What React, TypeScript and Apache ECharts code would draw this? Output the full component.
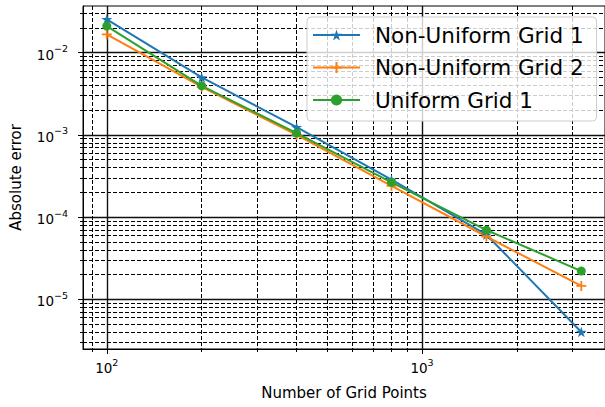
import { useEffect, useRef } from "react";
import * as echarts from "echarts";

const gridPoints = [100, 200, 400, 800, 1600, 3200];
const nonUniform1 = [0.0255, 5.0e-3, 1.24e-3, 2.85e-4, 6.1e-5, 4.0e-6];
const nonUniform2 = [0.0167, 3.85e-3, 1.0e-3, 2.4e-4, 5.8e-5, 1.45e-5];
const uniform1 = [0.0211, 3.95e-3, 1.05e-3, 2.65e-4, 6.95e-5, 2.2e-5];

const xMajorTicks = [100, 1000];
const xMinorTicks = [90, 200, 300, 400, 500, 600, 700, 800, 900, 2000, 3000];
const yMajorTicks = [1e-5, 1e-4, 1e-3, 1e-2];
const yMinorTicks = [
  3e-6, 4e-6, 5e-6, 6e-6, 7e-6, 8e-6, 9e-6,
  2e-5, 3e-5, 4e-5, 5e-5, 6e-5, 7e-5, 8e-5, 9e-5,
  2e-4, 3e-4, 4e-4, 5e-4, 6e-4, 7e-4, 8e-4, 9e-4,
  2e-3, 3e-3, 4e-3, 5e-3, 6e-3, 7e-3, 8e-3, 9e-3,
  2e-2, 3e-2,
];

const X_MIN = 84.05;
const X_MAX = 3805;
const Y_MIN = 2.48e-6;
const Y_MAX = 0.037;

const FONT = "DejaVu Sans";
const STAR =
  "path://M100,0L122.45,69.1L195.1,69.1L136.3,111.8L158.8,180.9L100,138.2L41.2,180.9L63.7,111.8L4.9,69.1L77.55,69.1Z";
const PLUS = "path://M4.1,0H5.9V4.1H10V5.9H5.9V10H4.1V5.9H0V4.1H4.1Z";

const powLabel = (v: number) => {
  const e = Math.round(Math.log10(v));
  const s = e < 0 ? "\u2212" + -e : String(e);
  return `{b|10}{s|${s}}`;
};

const rich = {
  b: { fontSize: 13.5, fontFamily: FONT, color: "#000", verticalAlign: "bottom", lineHeight: 18 },
  s: { fontSize: 9.5, fontFamily: FONT, color: "#000", verticalAlign: "top", lineHeight: 13 },
};

export default function App() {
  const ref = useRef<HTMLDivElement>(null);
  useEffect(() => {
    if (!ref.current) return;
    const chart = echarts.init(ref.current, undefined, { renderer: "svg" });
    const mk = (name: string, color: string, data: number[], symbol: string, size: any) => ({
      name,
      type: "line",
      xAxisIndex: 0,
      yAxisIndex: 0,
      data: gridPoints.map((x, i) => [x, data[i]]),
      symbol,
      symbolSize: size,
      showSymbol: true,
      lineStyle: { color, width: 2 },
      itemStyle: { color },
      emphasis: { disabled: true },
      z: 5,
    });
    chart.setOption({
      animation: false,
      backgroundColor: "#fff",
      grid: {
        left: 83,
        top: 6,
        right: -4.6,
        bottom: 58,
        show: true,
        borderColor: "#000",
        borderWidth: 1,
        backgroundColor: "transparent",
      },
      legend: {
        orient: "vertical",
        left: 307,
        top: 17,
        padding: [7, 13, 10, 5],
        itemGap: 10.5,
        itemWidth: 47,
        itemHeight: 14,
        backgroundColor: "rgba(255,255,255,0.8)",
        borderColor: "#cccccc",
        borderWidth: 1,
        borderRadius: 4,
        textStyle: { fontSize: 21.5, fontFamily: FONT, color: "#000", lineHeight: 22, padding: [0, 0, 0, 10] },
        data: ["Non-Uniform Grid 1", "Non-Uniform Grid 2", "Uniform Grid 1"],
      },
      xAxis: [
        {
          type: "log",
          min: X_MIN,
          max: X_MAX,
          position: "bottom",
          name: "Number of Grid Points",
          nameLocation: "middle",
          nameGap: 36,
          nameTextStyle: { fontSize: 15, fontFamily: FONT, color: "#000" },
          axisLine: { show: true, onZero: false, lineStyle: { color: "#000", width: 1 } },
          axisTick: { show: true, customValues: xMajorTicks, length: 5, lineStyle: { color: "#000", width: 1 } },
          axisLabel: { customValues: xMajorTicks, formatter: powLabel, rich, margin: 8 },
          splitLine: { show: true, lineStyle: { color: "#111", width: 1.4, type: "solid" } },
          z: 2,
        },
        {
          type: "log",
          min: X_MIN,
          max: X_MAX,
          position: "bottom",
          axisLine: { show: false },
          axisTick: { show: true, customValues: xMinorTicks, length: 3, lineStyle: { color: "#000", width: 1 } },
          axisLabel: { show: false },
          splitLine: { show: true, lineStyle: { color: "#000", width: 1, type: [4, 2] } },
          z: 1,
        },
      ],
      yAxis: [
        {
          type: "log",
          min: Y_MIN,
          max: Y_MAX,
          position: "left",
          name: "Absolute error",
          nameLocation: "middle",
          nameGap: 60,
          nameRotate: 90,
          nameTextStyle: { fontSize: 15, fontFamily: FONT, color: "#000" },
          axisLine: { show: true, onZero: false, lineStyle: { color: "#000", width: 1 } },
          axisTick: { show: true, customValues: yMajorTicks, length: 5, lineStyle: { color: "#000", width: 1 } },
          axisLabel: { customValues: yMajorTicks, formatter: powLabel, rich, margin: 15 },
          splitLine: { show: true, lineStyle: { color: "#111", width: 1.4, type: "solid" } },
          z: 2,
        },
        {
          type: "log",
          min: Y_MIN,
          max: Y_MAX,
          position: "left",
          axisLine: { show: false },
          axisTick: { show: true, customValues: yMinorTicks, length: 3, lineStyle: { color: "#000", width: 1 } },
          axisLabel: { show: false },
          splitLine: { show: true, lineStyle: { color: "#000", width: 1, type: [4, 2] } },
          z: 1,
        },
      ],
      series: [
        mk("Non-Uniform Grid 1", "#1f77b4", nonUniform1, STAR, [11, 10.5]),
        mk("Non-Uniform Grid 2", "#ff7f0e", nonUniform2, PLUS, 10),
        mk("Uniform Grid 1", "#2ca02c", uniform1, "circle", 9),
      ],
    });
    return () => chart.dispose();
  }, []);
  return (
    <div
      ref={ref}
      style={{ position: "fixed", left: 0, top: 0, width: 605, height: 407, background: "#fff" }}
    />
  );
}
